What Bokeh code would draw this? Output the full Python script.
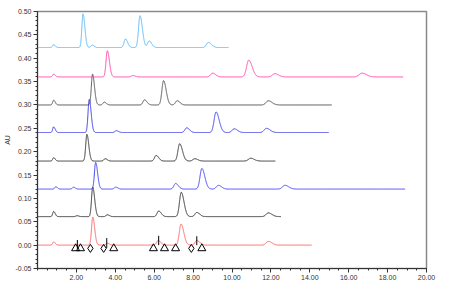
import numpy as np
from bokeh.plotting import figure
from bokeh.models import Range1d, FixedTicker, NumeralTickFormatter
from bokeh.embed import file_html
from bokeh.resources import INLINE

# ---- data: one peak table per chromatogram (retention time [min], height [AU]) ----
baselines = [0.000, 0.061, 0.120, 0.180, 0.241, 0.300, 0.360, 0.423]
run_ends = [14.1, 12.52, 18.9, 12.23, 14.97, 15.13, 18.8, 9.82]
colors = ["#ff6464", "#2e2e2e", "#4040f0", "#333333", "#3c3ce8", "#555555", "#ff48ac", "#5ab6f0"]

peak_times = [
    [0.83, 2.84, 3.59, 6.20, 7.38, 8.19, 11.87],
    [0.83, 2.03, 2.84, 3.59, 6.23, 7.39, 8.19, 11.87],
    [0.94, 1.85, 2.99, 4.02, 7.10, 8.45, 9.30, 12.72],
    [0.83, 2.54, 3.48, 6.10, 7.31, 8.09, 10.96],
    [0.83, 2.66, 4.05, 7.67, 9.18, 10.11, 11.77],
    [0.83, 2.83, 3.43, 5.50, 6.48, 7.18, 11.87],
    [0.83, 3.59, 4.90, 9.00, 10.86, 12.20, 16.68],
    [0.83, 2.34, 2.81, 4.52, 5.27, 5.74, 8.79],
]
peak_heights = [
    [0.007, 0.060, 0.004, 0.010, 0.045, 0.010, 0.008],
    [0.011, 0.002, 0.063, 0.004, 0.012, 0.052, 0.009, 0.008],
    [0.005, 0.004, 0.057, 0.004, 0.012, 0.044, 0.008, 0.008],
    [0.007, 0.057, 0.005, 0.012, 0.037, 0.005, 0.006],
    [0.012, 0.071, 0.004, 0.010, 0.044, 0.008, 0.009],
    [0.010, 0.066, 0.006, 0.011, 0.052, 0.009, 0.009],
    [0.006, 0.056, 0.003, 0.008, 0.036, 0.007, 0.008],
    [0.006, 0.072, 0.005, 0.018, 0.068, 0.014, 0.011],
]

# integration markers on the bottom trace
triangle_x = [1.96, 2.21, 3.92, 5.96, 6.53, 7.10, 8.45]
diamond_x = [2.72, 3.40, 7.91]
marker_y = -0.007
tickmark_x = [2.05, 3.56, 6.23, 8.19]
tickmark_y0 = [-0.008, -0.006, 0.000, 0.000]
tickmark_y1 = [0.011, 0.015, 0.020, 0.019]

x_ticks = [2, 4, 6, 8, 10, 12, 14, 16, 18, 20]
y_ticks = [-0.05, 0.00, 0.05, 0.10, 0.15, 0.20, 0.25, 0.30, 0.35, 0.40, 0.45, 0.50]

# ---- figure ----
p = figure(width=438, height=282, output_backend="svg", toolbar_location=None,
           x_range=Range1d(0, 20), y_range=Range1d(-0.05, 0.50),
           min_border_left=4, min_border_right=12, min_border_top=11, min_border_bottom=4)
p.xgrid.visible = False
p.ygrid.visible = False
p.outline_line_color = "#8a8a8a"
p.outline_line_width = 1.5
p.background_fill_color = "white"
p.border_fill_color = "white"


def peak_shape(t, t0, h):
    s = 0.045 + 0.006 * t0
    sl = np.where(t < t0, s, 1.6 * s)
    return h * np.exp(-0.5 * ((t - t0) / sl) ** 2)


for base, end, col, times, heights in zip(baselines, run_ends, colors, peak_times, peak_heights):
    t = np.linspace(0.0, end, 5000)
    y = np.full_like(t, base)
    for t0, h in zip(times, heights):
        y = y + peak_shape(t, t0, h)
    p.line(t, y, line_color=col, line_width=1.0)

p.segment(x0=tickmark_x, y0=tickmark_y0, x1=tickmark_x, y1=tickmark_y1,
          line_color="black", line_width=1)
p.scatter(triangle_x, [marker_y] * len(triangle_x), marker="triangle", size=8,
          fill_color=None, line_color="black", line_width=1)
p.scatter(diamond_x, [marker_y] * len(diamond_x), marker="diamond", size=8,
          fill_color=None, line_color="black", line_width=1)

font = "Liberation Sans"
for ax in (p.xaxis[0], p.yaxis[0]):
    ax.axis_line_color = "#333333"
    ax.major_tick_line_color = "#333333"
    ax.minor_tick_line_color = "#333333"
    ax.major_tick_in = 0
    ax.major_tick_out = 4
    ax.minor_tick_in = 0
    ax.minor_tick_out = 2
    ax.major_label_text_font = font
    ax.major_label_text_font_size = "7px"
    ax.major_label_text_color = "#333333"
    ax.major_label_standoff = 2
    ax.formatter = NumeralTickFormatter(format="0.00")

p.xaxis[0].ticker = FixedTicker(ticks=x_ticks, minor_ticks=list(np.arange(0, 20.01, 0.5)))
p.yaxis[0].ticker = FixedTicker(ticks=y_ticks, minor_ticks=list(np.arange(-0.05, 0.5001, 0.01)))
p.yaxis[0].axis_label = "AU"
p.yaxis[0].axis_label_text_font = font
p.yaxis[0].axis_label_text_font_size = "7px"
p.yaxis[0].axis_label_text_font_style = "normal"
p.yaxis[0].axis_label_text_color = "#333333"
p.yaxis[0].axis_label_standoff = 2

open("out.html", "w").write(file_html(p, INLINE))
